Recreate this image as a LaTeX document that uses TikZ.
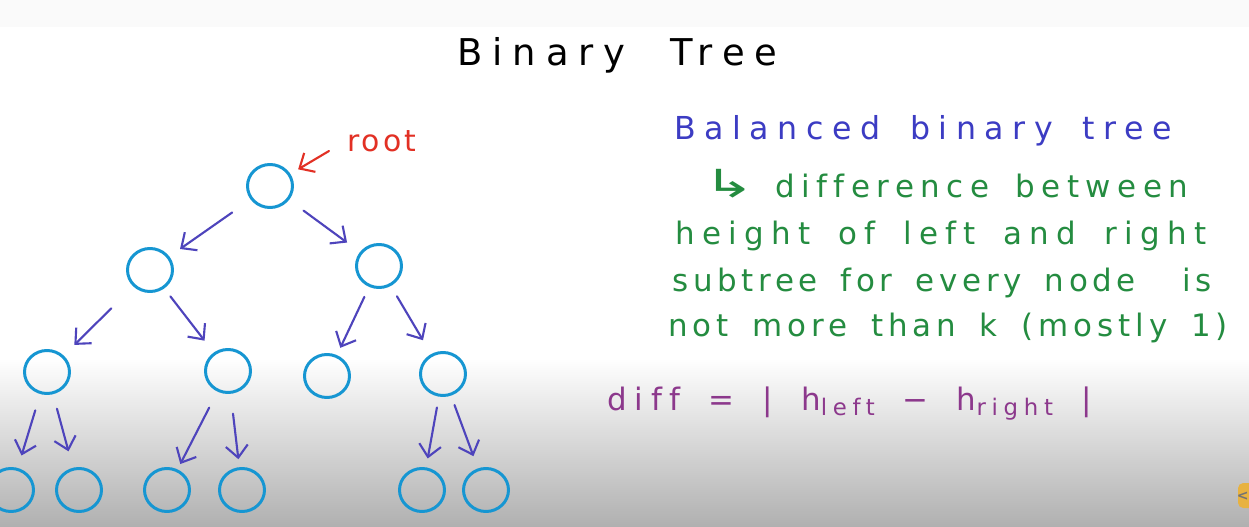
\documentclass[tikz,border=0pt]{standalone}
\usepackage{fontspec}
\setmainfont{DejaVu Sans}
\newfontfamily\handfont[LetterSpace=24, WordSpace=1.6, Ligatures=NoCommon]{DejaVu Sans}
\newfontfamily\titlefont[LetterSpace=27, Ligatures=NoCommon]{DejaVu Sans}
\usepackage{tikz}
\usetikzlibrary{positioning, shapes.geometric, arrows.meta}

\definecolor{nodeblue}{RGB}{22,150,210}
\definecolor{edgeblue}{RGB}{78,68,188}
\definecolor{rootred}{RGB}{226,48,36}
\definecolor{textblue}{RGB}{60,60,195}
\definecolor{textgreen}{RGB}{36,140,64}
\definecolor{textpurple}{RGB}{140,56,140}
\definecolor{tabyellow}{RGB}{232,178,64}

\begin{document}
\begin{tikzpicture}[
    x=0.02cm, y=-0.02cm,
    treenode/.style={
        ellipse, draw=nodeblue, line width=1.7pt,
        minimum width=0.9cm, minimum height=0.86cm, inner sep=0pt
    },
    treeflow/.style={-{Straight Barb[length=2.4mm, width=4.4mm]},
        line width=1.2pt, edgeblue, line cap=round, line join=round},
    rootflow/.style={-{Straight Barb[length=2.4mm, width=4.4mm]},
        line width=1.2pt, rootred, line cap=round, line join=round},
    title/.style={font=\titlefont\fontsize{21}{24}\selectfont,
        inner sep=0pt, anchor=base west},
    note/.style={font=\handfont\fontsize{17.6}{21}\selectfont,
        inner sep=0pt, anchor=base west, text=textgreen}
]

% === Page background ===
\useasboundingbox (0,0) rectangle (1249,527);
\fill[white] (0,0) rectangle (1249,527);
\fill[black!2] (0,0) rectangle (1249,27);
\shade[top color=white, bottom color=black!15] (0,358) rectangle (1249,440);
\shade[top color=black!15, bottom color=black!31] (0,440) rectangle (1249,527);

% === Title ===
\node[title] (heading) at (457,66) {Binary\hspace{0.9cm}Tree};

% === Tree ===
\node[treenode] (root) at (270,186) {};

\node[treenode] (l) at (150,270) {};
\node[treenode] (r) at (379,266) {};

\node[treenode] (ll) at (47,372) {};
\node[treenode] (lr) at (228,371) {};
\node[treenode] (rl) at (327,376) {};
\node[treenode] (rr) at (443,374) {};

\node[treenode] (lll) at (11,490) {};
\node[treenode] (llr) at (79,490) {};
\node[treenode] (lrl) at (167,490) {};
\node[treenode] (lrr) at (242,490) {};
\node[treenode] (rrl) at (422,490) {};
\node[treenode] (rrr) at (486,490) {};

% Tree arrows
\draw[treeflow, shorten <=0.45cm, shorten >=0.26cm] (root) -- (l);
\draw[treeflow, shorten <=0.36cm, shorten >=0.32cm] (root) -- (r);
\draw[treeflow, shorten <=0.62cm, shorten >=0.3cm] (l) -- (ll);
\draw[treeflow, shorten <=0.2cm, shorten >=0.3cm] (l) -- (lr);
\draw[treeflow, shorten <=0.22cm, shorten >=0.16cm] (r) -- (rl);
\draw[treeflow, shorten <=0.24cm, shorten >=0.32cm] (r) -- (rr);
\draw[treeflow, shorten <=0.34cm, shorten >=0.26cm] (ll) -- (lll);
\draw[treeflow, shorten <=0.3cm, shorten >=0.34cm] (ll) -- (llr);
\draw[treeflow, shorten <=0.36cm, shorten >=0.12cm] (lr) -- (lrl);
\draw[treeflow, shorten <=0.4cm, shorten >=0.16cm] (lr) -- (lrr);
\draw[treeflow, shorten <=0.22cm, shorten >=0.18cm] (rr) -- (rrl);
\draw[treeflow, shorten <=0.2cm, shorten >=0.26cm] (rr) -- (rrr);

% Root label
\node[font=\handfont\addfontfeature{LetterSpace=10}\fontsize{17}{20}\selectfont,
      text=rootred, inner sep=0pt, anchor=base west]
    (rootlbl) at (347,152) {root};
\coordinate (rootptr) at (329,151);
\draw[rootflow, shorten >=0.18cm] (rootptr) -- (root);

% === Balanced tree notes ===
\node[note, text=textblue,
      font=\handfont\addfontfeature{LetterSpace=27}\fontsize{18}{21}\selectfont]
    (balanced) at (674,140) {Balanced binary tree};
\node[note, font=\fontsize{22}{24}\selectfont] (turn) at (703,198)
    {\scalebox{1.6}[1]{↳}};
\node[note, font=\handfont\addfontfeature{LetterSpace=21}\fontsize{17.6}{21}\selectfont]
    (line1) at (775,197) {difference between};
\node[note] (line2) at (675,245) {height of left and right};
\node[note, font=\handfont\addfontfeature{LetterSpace=15}\fontsize{17.6}{21}\selectfont]
    (line3) at (672,292) {subtree for every node~~is};
\node[note, font=\handfont\addfontfeature{LetterSpace=16}\fontsize{17.6}{21}\selectfont]
    (line4) at (668,337) {not more than k (mostly 1)};

% Height difference
\node[note, text=textpurple,
      font=\handfont\addfontfeature{LetterSpace=25}\fontsize{17.6}{21}\selectfont]
    (diff) at (607,410)
    {diff = | h\raisebox{-0.35ex}{\fontsize{13}{15}\selectfont left} −
     h\raisebox{-0.35ex}{\fontsize{13}{15}\selectfont right} |};

% Player tab at the right edge
\fill[tabyellow, rounded corners=3pt] (1238,483) rectangle (1258,508);
\node[font=\bfseries\fontsize{8}{10}\selectfont, text=black!55, inner sep=0pt,
      anchor=east] (tab) at (1249,496) {<};

\end{tikzpicture}
\end{document}
